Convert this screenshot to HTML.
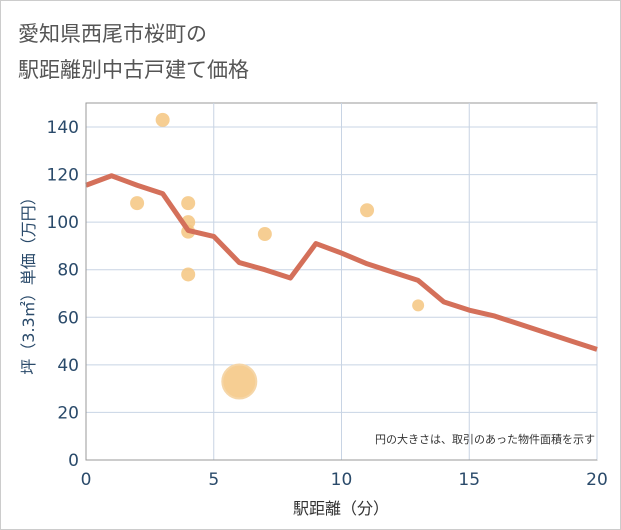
<!DOCTYPE html>
<html><head><meta charset="utf-8"><style>
body{margin:0;background:#fff;font-family:"DejaVu Sans","Noto Sans CJK JP",sans-serif;}
#wrap{position:relative;width:619px;height:528px;border:1px solid #ccc;background:#fff;}
</style></head><body>
<div id="wrap">
<svg id="chart" width="621" height="530" style="position:absolute;left:-1px;top:-1px" font-family="DejaVu Sans, Noto Sans CJK JP, sans-serif">
<text x="18" y="41" font-size="21" fill="#555">愛知県西尾市桜町の</text>
<text x="18" y="77" font-size="21" fill="#555">駅距離別中古戸建て価格</text>
<g id="grid"></g><g id="marks"></g><g id="axes"></g>
<text x="595" y="443" font-size="11" fill="#333" text-anchor="end">円の大きさは、取引のあった物件面積を示す</text>
<text x="341" y="514" font-size="16" fill="#333" text-anchor="middle">駅距離（分）</text>
<text transform="translate(34,282) rotate(-90)" font-size="16" fill="#2a4a6a" text-anchor="middle">坪（3.3㎡）単価（万円）</text>
</svg>
</div>
<script>
const lineX=[0,1,2,3,4,5,6,7,8,9,10,11,12,13,14,15,16,17,18,19,20];
const lineY=[115.5,119.5,115.5,112,96.5,94,83,80,76.5,91,87,82.5,79,75.5,66.5,63,60.5,57,53.5,50,46.5];
const ptX=[2,3,4,4,4,4,6,7,11,13];
const ptY=[108,143,108,100,96,78,33,95,105,65];
const ptR=[7,7,7,7,7,7,17,7,7,6];
const xTicks=[0,5,10,15,20];
const yTicks=[0,20,40,60,80,100,120,140];
const L=86,R=597,T=103,B=460;
const sx=v=>L+(R-L)*v/20, sy=v=>B-(B-127)*v/140;
const NS="http://www.w3.org/2000/svg";
function mk(t,a,p){const e=document.createElementNS(NS,t);for(const k in a)e.setAttribute(k,a[k]);p.appendChild(e);return e;}
const g=document.getElementById('grid'),m=document.getElementById('marks'),ax=document.getElementById('axes');
mk('rect',{x:L,y:T,width:R-L,height:B-T,fill:'#fff',stroke:'#999'},g);
xTicks.forEach(v=>{const e=mk('line',{x1:sx(v),x2:sx(v),y1:T,y2:B,stroke:'#c8d4e4'},g);

const t=mk('text',{x:sx(v),y:B+25,'font-size':17,fill:'#2a4a6a','text-anchor':'middle'},ax);t.textContent=v;
});
yTicks.forEach(v=>{const e=mk('line',{x1:L,x2:R,y1:sy(v),y2:sy(v),stroke:'#c8d4e4'},g);

const t=mk('text',{x:L-7,y:sy(v)+6,'font-size':17,fill:'#2a4a6a','text-anchor':'end'},ax);t.textContent=v;
});
mk('line',{x1:L,x2:L,y1:T,y2:B,stroke:'#999'},ax);
mk('line',{x1:L,x2:R,y1:B,y2:B,stroke:'#999'},ax);
ptX.forEach((x,i)=>{const c=mk('circle',{cx:sx(x),cy:sy(ptY[i]),r:ptR[i],fill:'#f5c580','fill-opacity':0.85,stroke:ptR[i]>10?'#f5d6a8':'none','stroke-width':2},m);
});
const p=mk('polyline',{points:lineX.map((x,i)=>sx(x)+','+sy(lineY[i])).join(' '),fill:'none',stroke:'#d4705a','stroke-width':5,'stroke-linejoin':'round'},m);

</script>
</body></html>
